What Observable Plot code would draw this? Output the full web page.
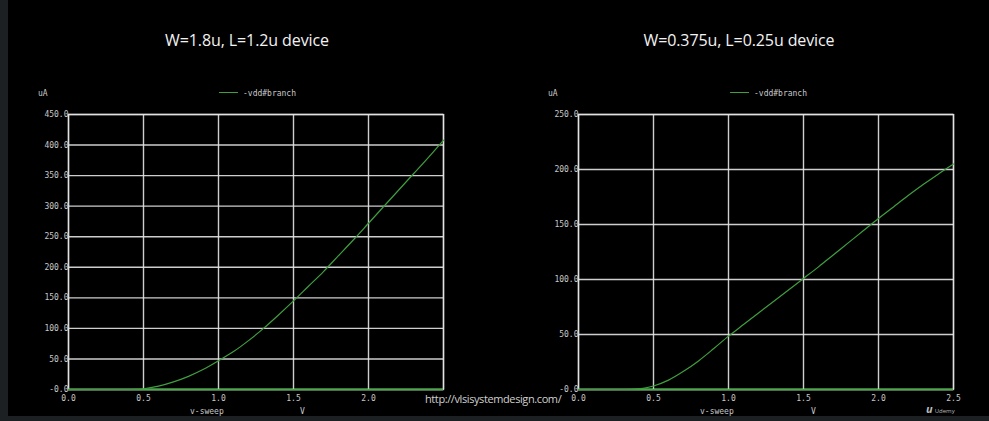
<!DOCTYPE html>
<html>
<head>
<meta charset="utf-8">
<script src="https://cdn.jsdelivr.net/npm/d3@7"></script>
<script src="https://cdn.jsdelivr.net/npm/@observablehq/plot@0.6"></script>
<style>
  html, body { margin: 0; padding: 0; }
  body { width: 989px; height: 421px; background: #1d2023; position: relative; overflow: hidden; }
  #stage { position: absolute; left: 8px; top: 0; width: 981px; height: 416px; background: #000; }
  .abs { position: absolute; white-space: nowrap; }
  .title { font-family: "Open Sans", sans-serif; font-size: 16px; line-height: 18px; color: #f2f2f2; letter-spacing: -0.1px; transform: translateX(-50%); }
  .mono { font-family: "DejaVu Sans Mono", monospace; font-size: 8px; line-height: 9px; color: #c8c8c8; }
  .leg { position: absolute; height: 0; border-top: 1.2px solid #3f9f3f; width: 19px; }
  .url { font-family: "Open Sans", sans-serif; font-size: 11px; line-height: 11px; color: #d0d0d0; letter-spacing: -0.4px; }
</style>
</head>
<body>
<div id="stage"></div>
<div id="c1" class="abs" style="left:0;top:0"></div>
<div id="c2" class="abs" style="left:490px;top:0"></div>

<div class="abs title" style="left:247px;top:31px">W=1.8u, L=1.2u device</div>
<div class="abs title" style="left:739px;top:31px">W=0.375u, L=0.25u device</div>

<div class="abs mono" style="left:38px;top:89px">uA</div>
<div class="leg" style="left:219px;top:92px"></div>
<div class="abs mono" style="left:243px;top:89px">-vdd#branch</div>
<div class="abs mono" style="left:190px;top:407px">v-sweep</div>
<div class="abs mono" style="left:300px;top:407px">V</div>

<div class="abs mono" style="left:548px;top:89px">uA</div>
<div class="leg" style="left:730px;top:92px"></div>
<div class="abs mono" style="left:754px;top:89px">-vdd#branch</div>
<div class="abs mono" style="left:700px;top:407px">v-sweep</div>
<div class="abs mono" style="left:811px;top:407px">V</div>

<div class="abs url" style="left:425px;top:393px">http://vlsisystemdesign.com/</div>
<div class="abs" style="left:926px;top:401px;font-family:'Open Sans',sans-serif;color:#bbb;font-size:11px;font-weight:700;font-style:italic">u<span style="font-size:6px;font-weight:400;font-style:normal;margin-left:2px">Udemy</span></div>

<script>
// Sweep voltage (V)
const vSweep = [0, 0.3, 0.35, 0.4, 0.45, 0.5, 0.6, 0.7, 0.8, 0.9, 1.0, 1.1, 1.2, 1.3, 1.4, 1.5, 1.6, 1.7, 1.8, 1.9, 2.0, 2.1, 2.2, 2.3, 2.4, 2.5];
// -vdd#branch current (uA), W=1.8u L=1.2u
const iLeft  = [0, 0, 0, 0, 0.2, 1.2, 5.5, 12.5, 21.5, 33, 47, 62, 80, 100, 122, 145, 169, 193, 219, 245, 272, 299, 326, 353, 380, 408];
// -vdd#branch current (uA), W=0.375u L=0.25u
const iRight = [0, 0, 0.1, 0.6, 1.5, 3.2, 8.5, 16.5, 26, 37, 48.5, 59, 69.5, 80, 90.5, 101, 111.5, 122.5, 133.5, 144.5, 155.5, 166, 176.5, 186.5, 196, 205];

const xGrid = [0, 0.5, 1.0, 1.5, 2.0, 2.5];
const xTicksLeft = [0, 0.5, 1.0, 1.5, 2.0];
const xTicksRight = [0, 0.5, 1.0, 1.5, 2.0, 2.5];
const yTicksLeft = [0, 50, 100, 150, 200, 250, 300, 350, 400, 450];
const yTicksRight = [0, 50, 100, 150, 200, 250];

const fmtY = d => d === 0 ? "-0.0" : d.toFixed(1);
const fmtX = d => d.toFixed(1);

function chart(values, yMax, yTicks, xTicks, width, marginLeft, marginRight) {
  const data = vSweep.map((v, k) => ({v, i: values[k]}));
  return Plot.plot({
    width, height: 421,
    marginLeft, marginRight, marginTop: 114, marginBottom: 32,
    style: {background: "transparent", color: "#c8c8c8", fontFamily: "DejaVu Sans Mono, monospace", fontSize: "8px"},
    x: {domain: [0, 2.5], label: null},
    y: {domain: [0, yMax], label: null},
    marks: [
      Plot.gridX(xGrid, {stroke: "#e4e4e4", strokeOpacity: 0.9, strokeWidth: 1.4}),
      Plot.gridY(yTicks, {stroke: "#e4e4e4", strokeOpacity: 0.9, strokeWidth: 1.4}),
      Plot.frame({stroke: "#e4e4e4", strokeOpacity: 0.9, strokeWidth: 1.4}),
      Plot.axisX(xTicks, {tickFormat: fmtX, tickSize: 0, tickPadding: 6, fill: "#c8c8c8"}),
      Plot.axisY(yTicks, {tickFormat: fmtY, tickSize: 0, tickPadding: 0, fill: "#c8c8c8"}),
      Plot.ruleY([0], {stroke: "#3cb43c", strokeWidth: 1.6}),
      Plot.line(data, {x: "v", y: "i", stroke: "#3f9f3f", strokeWidth: 1.2, curve: "monotone-x"})
    ]
  });
}

document.getElementById("c1").append(chart(iLeft, 450, yTicksLeft, xTicksLeft, 480, 68, 37));
document.getElementById("c2").append(chart(iRight, 250, yTicksRight, xTicksRight, 499, 88, 36));
</script>
</body>
</html>
